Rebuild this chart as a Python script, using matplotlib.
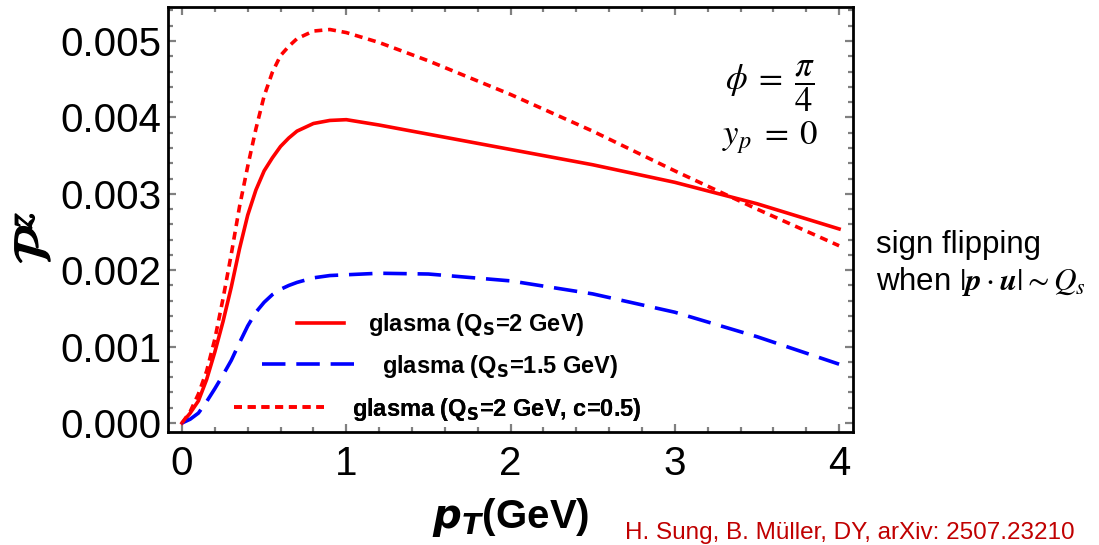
import numpy as np
import matplotlib
matplotlib.use("Agg")
import matplotlib.pyplot as plt
import matplotlib.patheffects as pe
from matplotlib.ticker import MultipleLocator
from matplotlib.font_manager import FontProperties, fontManager

plt.rcParams['font.family'] = ['Liberation Sans', 'DejaVu Sans']
plt.rcParams['mathtext.fontset'] = 'stix'

# values
pt = [0, 0.05, 0.1, 0.15, 0.2, 0.25, 0.3, 0.35, 0.4, 0.45, 0.5, 0.55, 0.6, 0.65, 0.7,
      0.8, 0.9, 1.0, 1.2, 1.5, 2.0, 2.5, 3.0, 3.5, 4.0]
glasma_qs2 = [0, 0.00013, 0.00029, 0.00057, 0.00093, 0.00133, 0.00178, 0.00228, 0.00272, 0.00305,
              0.00330, 0.00347, 0.00362, 0.00373, 0.00382, 0.00392, 0.00396, 0.00397, 0.00390,
              0.00378, 0.00358, 0.00338, 0.00315, 0.00287, 0.00254]
glasma_qs15 = [0, 0.00005, 0.00013, 0.00028, 0.00045, 0.00063, 0.00082, 0.00105, 0.00127, 0.00145,
               0.00158, 0.00168, 0.00175, 0.00180, 0.00184, 0.00190, 0.00193, 0.00194, 0.00196,
               0.00195, 0.00186, 0.00169, 0.00145, 0.00113, 0.00077]
glasma_c05 = [0, 0.00015, 0.00038, 0.00068, 0.00110, 0.00163, 0.00221, 0.00283, 0.00336, 0.00385,
              0.00428, 0.00459, 0.00481, 0.00493, 0.00503, 0.00513, 0.00515, 0.00511, 0.00498,
              0.00474, 0.00430, 0.00382, 0.00330, 0.00280, 0.00232]

labels = [r"glasma (Q$_{\mathbf{S}}$=2 GeV)",
          r"glasma (Q$_{\mathbf{S}}$=1.5 GeV)",
          r"glasma (Q$_{\mathbf{S}}$=2 GeV, c=0.5)"]

installed = {f.name for f in fontManager.ttflist}
narrow = 'Liberation Sans Narrow' if 'Liberation Sans Narrow' in installed else 'Liberation Sans'

fig = plt.figure(figsize=(10.99, 5.45), dpi=100)
ax = fig.add_axes([0.1529, 0.2073, 0.6233, 0.7799])

l1, = ax.plot(pt, glasma_qs2, color='#ff0000', lw=2.6)
l2, = ax.plot(pt, glasma_qs15, color='#0000ff', lw=2.6, dashes=(6.5, 3))
l3, = ax.plot(pt, glasma_c05, color='#ff0000', lw=2.6, dashes=(2.2, 1.6))

ax.set_xlim(-0.085, 4.085)
ax.set_ylim(-0.000118, 0.005445)

ax.xaxis.set_major_locator(MultipleLocator(1))
ax.xaxis.set_minor_locator(MultipleLocator(0.2))
ax.yaxis.set_major_locator(MultipleLocator(0.001))
ax.yaxis.set_minor_locator(MultipleLocator(0.0002))
ax.yaxis.set_major_formatter(plt.FuncFormatter(lambda v, p: f"{v:.3f}"))

ax.tick_params(which='both', direction='in', top=True, right=True, color='#808080', width=1.6)
ax.tick_params(which='major', length=6)
ax.tick_params(which='minor', length=3.5)
ax.tick_params(axis='y', labelsize=29, pad=5)
ax.tick_params(axis='x', pad=9)
for t in ax.get_xticklabels():
    t.set_fontfamily(narrow)
    t.set_fontsize(29)
for s in ax.spines.values():
    s.set_linewidth(2.0)

# legend rows, each placed like the Mathematica legend
legfont = FontProperties(family='Liberation Sans', weight='bold', size=17, math_fontfamily='dejavusans')
rows = [(l1, labels[0], 0.188, 0.252, 2.0, 1.0),
        (l2, labels[1], 0.137, 0.155, 3.9, 1.2),
        (l3, labels[2], 0.096, 0.054, 3.8, 1.2)]
for h, lab, x0, y0, hl, tp in rows:
    lg = ax.legend([h], [lab], loc='center left', bbox_to_anchor=(x0, y0), frameon=False,
                   prop=legfont, handlelength=hl, handletextpad=tp, borderpad=0, borderaxespad=0)
    ax.add_artist(lg)

ax.text(0.879, 0.815, r"$\phi\;=\;\dfrac{\pi}{4}$", transform=ax.transAxes, fontsize=25,
        ha='center', va='center')
ax.text(0.879, 0.692, r"$y_p\;=\;0$", transform=ax.transAxes, fontsize=25,
        ha='center', va='center')

ax.set_xlabel(r"$\mathbfit{p_T}$(GeV)", fontsize=29, fontweight='bold', labelpad=10,
              math_fontfamily='dejavusans')
fig.text(0.033, 0.563, r"$\mathcal{P}^z$", rotation=90, fontsize=38, ha='center', va='center',
         path_effects=[pe.withStroke(linewidth=1.2, foreground='black')])

fig.text(0.797, 0.550, "sign flipping", fontsize=22.5, ha='left', va='center')
fig.text(0.797, 0.483, r"when $|\mathbfit{p}\cdot\mathbfit{u}|{\sim}Q_s$", fontsize=22.5,
         ha='left', va='center')

fig.text(0.773, 0.022, "H. Sung, B. Müller, DY, arXiv: 2507.23210", color='#c00000',
         fontsize=17.5, ha='center', va='center')

fig.savefig("out.png", dpi=100)
